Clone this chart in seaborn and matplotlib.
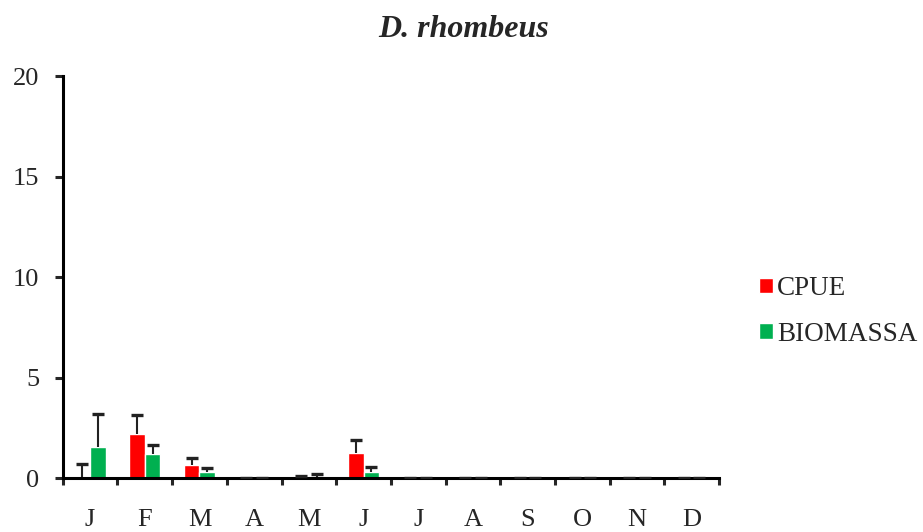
import numpy as np
import pandas as pd
import seaborn as sns
import matplotlib.pyplot as plt

# Values
months = ['J', 'F', 'M', 'A', 'M', 'J', 'J', 'A', 'S', 'O', 'N', 'D']
cpue = [0.05, 2.22, 0.68, 0.0, 0.1, 1.26, 0.0, 0.0, 0.0, 0.0, 0.0, 0.0]
cpue_err = [0.65, 0.91, 0.34, 0.0, 0.02, 0.66, 0.0, 0.0, 0.0, 0.0, 0.0, 0.0]
biomassa = [1.57, 1.19, 0.30, 0.0, 0.05, 0.30, 0.0, 0.0, 0.0, 0.0, 0.0, 0.0]
biomassa_err = [1.63, 0.48, 0.20, 0.0, 0.15, 0.28, 0.0, 0.0, 0.0, 0.0, 0.0, 0.0]

month_id = list(range(len(months)))
df = pd.DataFrame({
    'Month': month_id * 2,
    'Value': cpue + biomassa,
    'Serie': ['CPUE'] * 12 + ['BIOMASSA'] * 12,
})

sns.set_style('white')
plt.rcParams['font.family'] = ['Liberation Serif', 'DejaVu Serif']

fig, ax = plt.subplots(figsize=(9.23, 5.32), dpi=100)
fig.subplots_adjust(left=0.068, right=0.779, top=0.857, bottom=0.101)

sns.barplot(data=df, x='Month', y='Value', hue='Serie',
            palette={'CPUE': '#FF0000', 'BIOMASSA': '#00B050'},
            width=0.57, saturation=1, ax=ax, legend=True)

# upward-only error bars: stem + top cap
for cont, errs in zip(ax.containers, [cpue_err, biomassa_err]):
    xs = np.array([b.get_x() + b.get_width() / 2 for b in cont])
    ys = np.array([b.get_height() for b in cont])
    tops = ys + np.array(errs)
    ax.vlines(xs, ys, tops, color='#222222', linewidth=1.5, zorder=3)
    ax.scatter(xs, tops, marker='_', s=85, linewidths=2.4,
               color='#222222', zorder=3)

ax.set_ylim(0, 20)
ax.set_xlim(-0.5, 11.5)
ax.set_yticks([0, 5, 10, 15, 20])
ax.set_xticks(np.arange(-0.5, 12, 1))
ax.set_xticklabels([])
ax.set_xticks(month_id, minor=True)
ax.set_xticklabels(months, minor=True)
ax.tick_params(axis='x', which='major', direction='out', length=5, width=2.2, bottom=True)
ax.tick_params(axis='x', which='minor', length=0, pad=22, labelsize=19)
ax.tick_params(axis='y', direction='out', length=6, width=2.2, left=True, pad=11, labelsize=19)

sns.despine(ax=ax)
for s in ['left', 'bottom']:
    ax.spines[s].set_linewidth(2.2)
    ax.spines[s].set_color('black')

ax.set_xlabel('')
ax.set_ylabel('')

fig.suptitle('D. rhombeus', x=0.502, y=0.972, fontsize=23,
             fontweight='bold', fontstyle='italic')

ax.legend(title=None, frameon=False, loc='center left',
          bbox_to_anchor=(1.045, 0.415), fontsize=19.5, handlelength=0.5,
          handleheight=0.5, handletextpad=0.15, labelspacing=0.75,
          borderaxespad=0)

plt.savefig('out.png', dpi=100)
